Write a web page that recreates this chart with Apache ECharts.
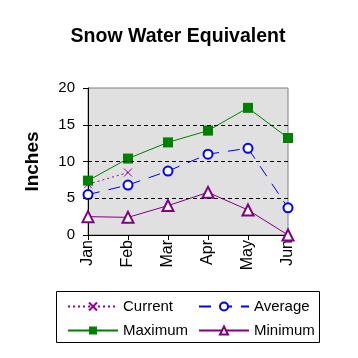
<!DOCTYPE html>
<html><head><meta charset="utf-8">
<script src="https://cdn.jsdelivr.net/npm/echarts@6/dist/echarts.min.js"></script>
<style>html,body{margin:0;padding:0;background:#fff}#c{width:358px;height:358px}</style>
</head><body><div id="c"></div>
<script>
var months = ['Jan','Feb','Mar','Apr','May','Jun'];
var current = [6.9, 8.5, null, null, null, null];
var average = [5.5, 6.8, 8.7, 11.0, 11.8, 3.7];
var maximum = [7.4, 10.4, 12.6, 14.2, 17.3, 13.2];
var minimum = [2.5, 2.4, 4.0, 5.8, 3.4, 0.0];
var gridLines = [5, 10, 15];
var F = 'Liberation Sans, Arial, sans-serif';
var chart = echarts.init(document.getElementById('c'));
chart.setOption({
  animation: false,
  title: {text: 'Snow Water Equivalent', left: 173, top: 22, textAlign: 'center',
    textStyle: {fontFamily: F, fontWeight: 'bold', fontSize: 19.5, color: '#000'}},
  grid: {left: 88, right: 70, top: 88, bottom: 123, show: true, backgroundColor: '#e0e0e0', borderColor: '#808080', borderWidth: 1},
  legend: [
    {orient: 'vertical', left: 62, top: 294, itemWidth: 50, itemHeight: 10, itemGap: 9,
     data: ['Current', 'Maximum'], textStyle: {fontFamily: F, fontSize: 15, color: '#000'}},
    {orient: 'vertical', left: 193, top: 294, itemWidth: 50, itemHeight: 10, itemGap: 9,
     data: ['Average', 'Minimum'], textStyle: {fontFamily: F, fontSize: 15, color: '#000'}}
  ],
  graphic: [{type: 'rect', shape: {x: 56.5, y: 291.5, width: 263, height: 51}, style: {fill: 'none', stroke: '#000', lineWidth: 1}}],
  xAxis: {type: 'category', data: months, boundaryGap: false,
    axisLine: {lineStyle: {color: '#000'}}, axisTick: {show: true, length: 5, lineStyle: {color: '#000'}},
    axisLabel: {rotate: 90, fontFamily: F, fontSize: 16, color: '#000', margin: 5}},
  yAxis: {type: 'value', min: 0, max: 20, interval: 5, name: 'Inches', nameLocation: 'middle', nameGap: 46, nameRotate: 90,
    nameTextStyle: {fontFamily: F, fontWeight: 'bold', fontSize: 19, color: '#000'},
    axisLine: {show: true, lineStyle: {color: '#000'}}, axisTick: {show: true, length: 5, lineStyle: {color: '#000'}},
    splitLine: {show: false},
    axisLabel: {fontFamily: F, fontSize: 15, color: '#000', margin: 13}},
  series: [
    {name: 'Current', type: 'line', data: current, symbol: 'path://M0,0L10,10M10,0L0,10', symbolSize: 8,
     lineStyle: {color: '#990099', width: 1, type: [2, 3]},
     itemStyle: {color: 'rgba(0,0,0,0)', borderColor: '#990099', borderWidth: 1},
     markLine: {silent: true, symbol: 'none', label: {show: false}, lineStyle: {color: '#000', type: [4, 3], width: 1},
       data: gridLines.map(function (v) { return {yAxis: v}; })}},
    {name: 'Average', type: 'line', data: average, symbol: 'emptyCircle', symbolSize: 9,
     lineStyle: {color: '#0000ff', width: 1, type: [12, 9]}, itemStyle: {color: '#0000ff', borderWidth: 1}},
    {name: 'Maximum', type: 'line', data: maximum, symbol: 'rect', symbolSize: 10,
     lineStyle: {color: '#008000', width: 1}, itemStyle: {color: '#008000'}},
    {name: 'Minimum', type: 'line', data: minimum, symbol: 'emptyTriangle', symbolSize: 11,
     lineStyle: {color: '#800080', width: 1}, itemStyle: {color: '#800080', borderWidth: 1}}
  ]
});
</script></body></html>
